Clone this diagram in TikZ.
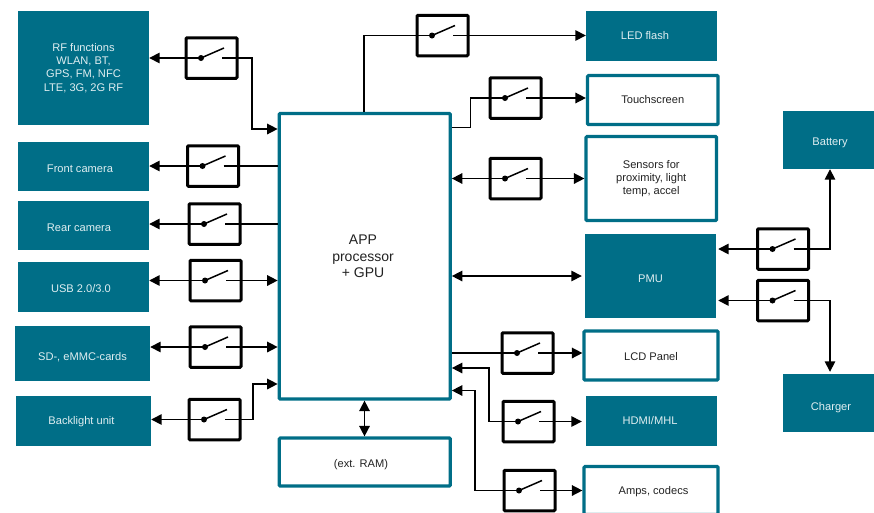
\documentclass[tikz,border=0pt]{standalone}
\usepackage{fontspec}
\setmainfont{Liberation Sans}
\usetikzlibrary{arrows.meta}

\definecolor{socteal}{HTML}{006E87}
\definecolor{soctext}{HTML}{222222}
\tikzset{
    tealbox/.style={fill=socteal, text=white!88!socteal, inner sep=0pt, align=center, font=\fontsize{11.1}{13.3}\selectfont},
    linebox/.style={draw=socteal, line width=3.2pt, rounded corners=1pt, fill=white, text=soctext, inner sep=0pt, align=center, font=\fontsize{11.1}{13.3}\selectfont},
    swbox/.style={draw=black, line width=3pt, rounded corners=1pt, minimum width=51, minimum height=40.5, inner sep=0pt},
    wire/.style={line width=1.5pt},
    txt/.style={text height=#1pt, text depth=0pt},
}

\begin{document}
\begin{tikzpicture}[x=1pt, y=-1pt, >={Triangle[length=10.5pt, width=10.5pt]}]
    \useasboundingbox (0,0) rectangle (874,512);
    \clip (0,0) rectangle (874,512);

    % left column
    \node[tealbox, minimum width=131, minimum height=114] (rf) at (83.5,68) {RF functions\\WLAN, BT,\\GPS, FM, NFC\\LTE, 3G, 2G RF};
    \node[tealbox, txt=11, minimum width=131, minimum height=49] (front) at (83.5,166.5) {\hspace*{-7pt}Front camera};
    \node[tealbox, txt=11, minimum width=131, minimum height=49] (rear) at (83.5,225.5) {\hspace*{-9pt}Rear camera};
    \node[tealbox, txt=10, minimum width=131, minimum height=50] (usb) at (83.5,287) {\hspace*{-5pt}USB 2.0/3.0};
    \node[tealbox, txt=13, minimum width=135, minimum height=55] (sd) at (82.5,353.5) {SD-, eMMC-cards};
    \node[tealbox, txt=6, minimum width=135, minimum height=50] (backlight) at (83.5,421) {\hspace*{-4pt}Backlight unit};

    % processor and memory
    \node[linebox, minimum width=171, minimum height=285.5, font=\fontsize{14}{16.5}\selectfont] (app) at (364.75,256.25) {\hspace*{-3.5pt}APP\\\hspace*{-3.5pt}processor\\\hspace*{-3.5pt}+ GPU};
    \node[linebox, txt=10, minimum width=171, minimum height=48] (ram) at (364.75,462) {\hspace*{-7.5pt}(ext. RAM)};

    % right column
    \node[tealbox, txt=6, minimum width=131, minimum height=50] (led) at (651.5,36) {\hspace*{-13pt}LED flash};
    \node[linebox, txt=6, minimum width=130.5, minimum height=49] (touch) at (652.75,100) {Touchscreen};
    \node[linebox, minimum width=130.5, minimum height=84] (sensors) at (651.25,178.5) {Sensors for\\proximity, light\\temp, accel};
    \node[tealbox, txt=12, minimum width=131, minimum height=84] (pmu) at (650.5,276) {PMU};
    \node[linebox, txt=9, minimum width=134, minimum height=49] (lcd) at (651,355.5) {LCD Panel};
    \node[tealbox, txt=6, minimum width=131, minimum height=50] (hdmi) at (651.5,421) {\hspace*{-3pt}HDMI/MHL};
    \node[linebox, txt=8, minimum width=134, minimum height=48] (amps) at (651,490.5) {\hspace*{5pt}Amps, codecs};

    % power side
    \node[tealbox, txt=10, minimum width=94, minimum height=58] (battery) at (830,140) {Battery};
    \node[tealbox, txt=14, minimum width=94, minimum height=58] (charger) at (830,403) {\hspace*{2pt}Charger};

    % switches
    \foreach \n/\x/\y in {swrf/211.5/58, swfront/213/166, swrear/214.5/224, swusb/215.5/280.5,
        swsd/215.5/347, swback/214.5/419.5, swled/442.5/35.5, swtouch/515.5/98, swsens/515.5/178.5,
        swlcd/527.5/353, swhdmi/528.5/421.5, swamps/529.5/490.5, swbat/783/249, swchg/783/300.5} {
        \node[swbox] (\n) at (\x,\y) {};
        \coordinate (\n-p) at ([xshift=-10.5pt]\n.center);
        \coordinate (\n-c) at ([xshift=10.5pt]\n.center);
        \fill (\n-p) circle (3pt);
        \draw[line width=1.5pt] (\n-p) -- ([xshift=12.5pt, yshift=10pt]\n.center);
    }

    % ports on the processor
    \coordinate (app-rf) at (app.west |- 0,129);
    \coordinate (app-back) at (app.west |- 0,384);
    \coordinate (app-led) at (app.north -| 364,0);
    \coordinate (app-touch) at (app.east |- 0,127.5);
    \coordinate (app-hdmi) at (app.east |- 0,368);
    \coordinate (app-amps) at (app.east |- 0,390.5);

    % left wires
    \draw[wire, ->] (swrf-p) -- (rf.east |- swrf-p);
    \draw[wire, ->] (swrf-c) -- ++(30,0) |- (app-rf);
    \draw[wire, ->] (swfront-p) -- (front.east |- swfront-p);
    \draw[wire] (swfront-c) -- (app.west |- swfront-c);
    \draw[wire, ->] (swrear-p) -- (rear.east |- swrear-p);
    \draw[wire] (swrear-c) -- (app.west |- swrear-c);
    \draw[wire, ->] (swusb-p) -- (usb.east |- swusb-p);
    \draw[wire, ->] (swusb-c) -- (app.west |- swusb-c);
    \draw[wire, ->] (swsd-p) -- (sd.east |- swsd-p);
    \draw[wire, ->] (swsd-c) -- (app.west |- swsd-c);
    \draw[wire, ->] (swback-p) -- (backlight.east |- swback-p);
    \draw[wire, ->] (swback-c) -- ++(28,0) |- (app-back);

    % right wires
    \draw[wire] (app-led) |- (swled-p);
    \draw[wire, ->] (swled-c) -- (led.west |- swled-c);
    \draw[wire] (app-touch) -- ++(18.5,0) |- (swtouch-p);
    \draw[wire, ->] (swtouch-c) -- (touch.west |- swtouch-c);
    \draw[wire, ->] (swsens-p) -- (app.east |- swsens-p);
    \draw[wire, ->] (swsens-c) -- (sensors.west |- swsens-c);
    \draw[wire, <->, shorten >=3pt] (app.east |- pmu.west) -- (pmu.west);
    \draw[wire] (app.east |- swlcd-p) -- (swlcd-p);
    \draw[wire, ->] (swlcd-c) -- (lcd.west |- swlcd-c);
    \draw[wire, ->] (swhdmi-p) -- ++(-29,0) |- (app-hdmi);
    \draw[wire, ->, shorten >=4pt] (swhdmi-c) -- (hdmi.west |- swhdmi-c);
    \draw[wire, ->] (swamps-p) -- ++(-44,0) |- (app-amps);
    \draw[wire, ->] (swamps-c) -- (amps.west |- swamps-c);
    \draw[wire, <->] (app.south -| 364.5,0) -- (ram.north -| 364.5,0);

    % power wires
    \draw[wire, ->, shorten >=2pt] (swbat-p) -- (pmu.east |- swbat-p);
    \draw[wire, ->] (swbat-c) -| (battery.south);
    \draw[wire, ->, shorten >=2pt] (swchg-p) -- (pmu.east |- swchg-p);
    \draw[wire, ->, shorten >=2pt] (swchg-c) -| (charger.north);
\end{tikzpicture}
\end{document}
